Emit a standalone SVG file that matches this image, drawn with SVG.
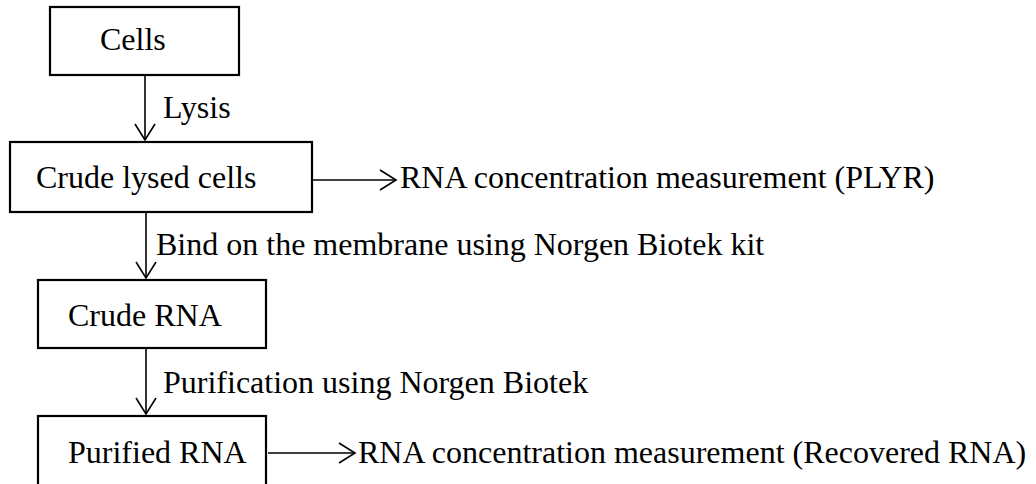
<svg xmlns="http://www.w3.org/2000/svg" width="1036" height="484" viewBox="0 0 1036 484">
<style>
.box{fill:#fff;stroke:#000;stroke-width:2.2}
.t{font-family:"Liberation Serif","Times New Roman",serif;font-size:32px;fill:#000}
.c{stroke:#000;stroke-width:1.6;fill:none}
</style>
<defs>
<marker id="ah" markerUnits="userSpaceOnUse" markerWidth="22" markerHeight="24" refX="17" refY="11" orient="auto" viewBox="0 0 22 24">
<path d="M1,1 L17,11 L1,21" fill="none" stroke="#000" stroke-width="1.6"/>
</marker>
</defs>
<rect width="1036" height="484" fill="#fff"/>
<g id="connectors">
<line class="c" x1="145" y1="75" x2="145" y2="140" marker-end="url(#ah)"/>
<line class="c" x1="146" y1="213" x2="146" y2="278" marker-end="url(#ah)"/>
<line class="c" x1="146" y1="348" x2="146" y2="414" marker-end="url(#ah)"/>
<line class="c" x1="313" y1="180" x2="396" y2="180" marker-end="url(#ah)"/>
<line class="c" x1="268" y1="453" x2="355" y2="453" marker-end="url(#ah)"/>
<text class="t" x="163" y="118">Lysis</text>
<text class="t" x="156" y="255">Bind on the membrane using Norgen Biotek kit</text>
<text class="t" x="163" y="393">Purification using Norgen Biotek</text>
</g>
<g id="cells">
<rect class="box" x="50" y="7" width="189" height="68"/>
<text class="t" x="100" y="50">Cells</text>
</g>
<g id="crude-lysed">
<rect class="box" x="10" y="142" width="302" height="70"/>
<text class="t" x="36" y="188">Crude lysed cells</text>
</g>
<g id="plyr">
<text class="t" x="400" y="188">RNA concentration measurement (PLYR)</text>
</g>
<g id="crude-rna">
<rect class="box" x="38" y="280" width="228" height="68"/>
<text class="t" x="68" y="326">Crude RNA</text>
</g>
<g id="purified">
<rect class="box" x="38" y="416" width="228" height="80"/>
<text class="t" x="68" y="463">Purified RNA</text>
</g>
<g id="recovered">
<text class="t" x="358" y="463">RNA concentration measurement (Recovered RNA)</text>
</g>
</svg>
